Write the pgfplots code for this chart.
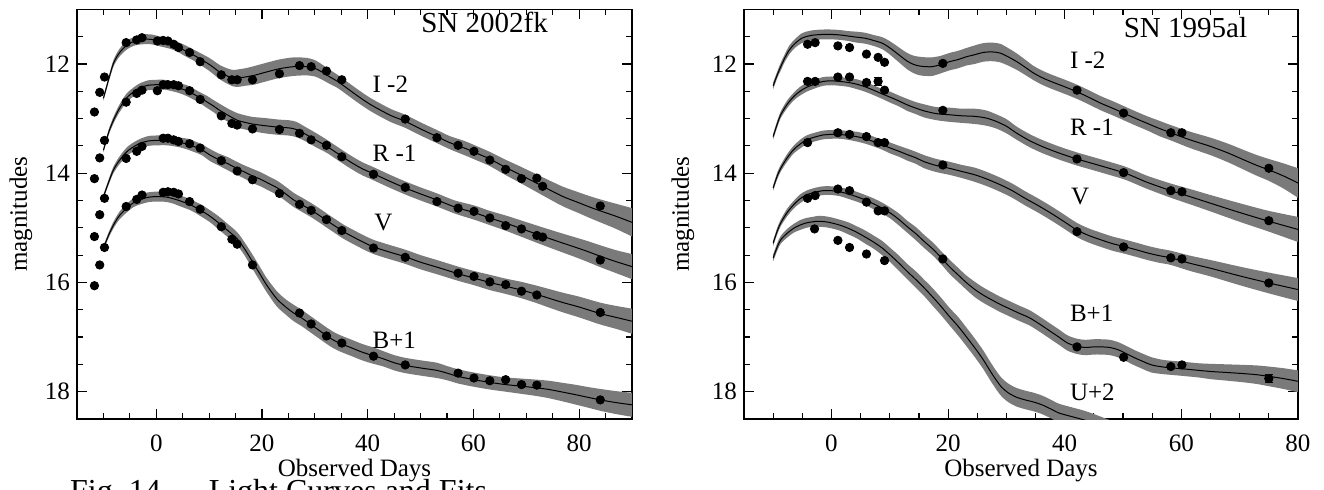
\documentclass[border=0pt]{standalone}
\usepackage{fontspec}
\setmainfont{Liberation Serif}
\usepackage{pgfplots}
\pgfplotsset{compat=1.18}
\usepackage{pgfplotstable}
\usepgfplotslibrary{fillbetween}
\definecolor{band}{RGB}{122,122,122}

% ---------------- SN 2002fk fits ----------------
\pgfplotstableread{
d m e
-10.0 12.63 0.04
-9.0 12.28 0.05
-8.1 11.99 0.06
-7.0 11.80 0.07
-5.5 11.65 0.08
-4.0 11.58 0.08
-2.5 11.55 0.09
-1.0 11.55 0.09
0.8 11.59 0.09
2.5 11.63 0.09
3.9 11.68 0.09
5.5 11.76 0.10
7.1 11.84 0.10
8.7 11.93 0.11
10.2 12.02 0.12
12.0 12.15 0.13
13.4 12.22 0.14
14.5 12.26 0.15
15.5 12.26 0.16
16.8 12.24 0.16
18.5 12.21 0.17
20.0 12.17 0.17
23.2 12.09 0.17
26.0 12.05 0.17
28.5 12.05 0.16
30.0 12.08 0.15
31.2 12.14 0.14
32.7 12.23 0.13
34.3 12.32 0.12
36.3 12.46 0.12
38.3 12.60 0.12
40.3 12.73 0.12
42.3 12.84 0.12
44.5 12.95 0.12
47.1 13.05 0.12
50.0 13.19 0.12
53.1 13.33 0.12
55.5 13.44 0.12
58.3 13.54 0.13
60.5 13.63 0.13
63.1 13.74 0.13
66.0 13.89 0.14
68.7 14.02 0.15
71.5 14.16 0.16
74.3 14.30 0.17
77.0 14.43 0.18
79.9 14.54 0.19
82.0 14.62 0.20
84.0 14.69 0.21
87.0 14.79 0.23
90.0 14.90 0.26
}\aI
\pgfplotstableread{
d m e
-10.0 13.58 0.04
-9.0 13.25 0.05
-8.1 13.03 0.06
-7.0 12.82 0.07
-5.6 12.62 0.08
-4.0 12.49 0.08
-3.0 12.43 0.08
-1.5 12.39 0.09
0.0 12.38 0.09
1.5 12.38 0.09
2.6 12.40 0.09
4.2 12.44 0.09
5.8 12.49 0.10
7.0 12.55 0.10
8.3 12.62 0.10
9.5 12.69 0.11
10.8 12.77 0.11
12.0 12.85 0.12
13.4 12.93 0.12
15.3 13.03 0.13
16.8 13.07 0.13
18.2 13.10 0.13
20.5 13.13 0.14
23.3 13.16 0.14
25.0 13.17 0.14
26.5 13.20 0.14
28.5 13.30 0.13
30.3 13.40 0.13
32.3 13.51 0.12
34.0 13.62 0.12
35.4 13.71 0.12
37.0 13.81 0.12
39.0 13.92 0.12
41.1 14.01 0.12
44.0 14.14 0.12
47.1 14.27 0.12
50.0 14.38 0.12
53.1 14.49 0.12
56.5 14.62 0.12
60.1 14.72 0.13
63.1 14.82 0.13
66.3 14.92 0.14
69.5 15.03 0.15
72.7 15.14 0.16
76.0 15.25 0.17
79.1 15.35 0.18
81.5 15.43 0.19
84.0 15.52 0.20
87.0 15.62 0.21
90.0 15.71 0.23
}\aR
\pgfplotstableread{
d m e
-10.0 14.43 0.04
-9.0 14.16 0.05
-8.1 13.94 0.06
-7.0 13.77 0.07
-5.5 13.60 0.08
-4.0 13.50 0.08
-3.0 13.45 0.08
-1.5 13.41 0.09
0.0 13.40 0.09
2.1 13.40 0.09
3.5 13.42 0.09
4.6 13.44 0.09
6.0 13.47 0.10
7.1 13.51 0.10
8.6 13.57 0.10
10.2 13.67 0.11
11.8 13.75 0.11
13.4 13.82 0.12
15.0 13.90 0.12
16.5 13.97 0.12
18.2 14.05 0.13
19.7 14.11 0.13
21.3 14.19 0.13
22.9 14.27 0.13
24.5 14.38 0.13
26.0 14.49 0.13
27.6 14.58 0.13
29.2 14.67 0.13
30.8 14.77 0.13
32.3 14.87 0.13
34.0 14.98 0.13
35.4 15.07 0.13
37.5 15.18 0.13
39.3 15.27 0.13
41.1 15.35 0.13
44.0 15.44 0.13
47.1 15.53 0.13
50.0 15.63 0.13
53.1 15.72 0.13
57.1 15.84 0.13
60.1 15.92 0.13
63.1 16.00 0.14
66.1 16.07 0.14
69.1 16.14 0.15
72.0 16.22 0.16
74.3 16.29 0.17
77.0 16.37 0.18
80.0 16.45 0.19
84.0 16.57 0.20
87.0 16.64 0.21
90.0 16.71 0.23
}\aV
\pgfplotstableread{
d m e
-10.0 15.37 0.04
-9.0 15.13 0.05
-8.1 14.95 0.06
-7.0 14.78 0.07
-5.6 14.64 0.08
-4.3 14.54 0.08
-3.0 14.48 0.09
-1.5 14.44 0.09
-0.5 14.43 0.09
1.0 14.43 0.09
2.1 14.44 0.09
3.3 14.47 0.09
4.6 14.51 0.10
6.0 14.56 0.10
7.1 14.61 0.10
8.6 14.69 0.11
10.2 14.79 0.11
11.8 14.91 0.12
13.4 15.04 0.12
15.3 15.20 0.12
16.8 15.40 0.12
18.2 15.62 0.13
19.7 15.86 0.13
20.9 16.05 0.13
22.8 16.30 0.14
24.5 16.45 0.14
26.0 16.56 0.15
27.5 16.65 0.15
29.1 16.76 0.15
30.7 16.87 0.15
32.3 16.98 0.15
33.8 17.07 0.15
35.4 17.14 0.15
37.0 17.20 0.15
38.5 17.26 0.15
40.0 17.31 0.15
41.1 17.34 0.15
43.0 17.40 0.14
45.0 17.47 0.14
47.1 17.52 0.14
50.3 17.57 0.14
53.1 17.61 0.14
55.0 17.66 0.13
57.1 17.72 0.13
60.1 17.78 0.13
63.1 17.83 0.13
66.1 17.87 0.13
69.1 17.90 0.14
72.0 17.93 0.15
74.3 17.96 0.16
77.0 18.01 0.17
79.1 18.05 0.18
82.0 18.11 0.19
84.0 18.15 0.20
87.0 18.20 0.21
90.0 18.24 0.22
}\aB

% ---------------- SN 1995al fits ----------------
\pgfplotstableread{
d m e
-10.0 12.40 0.06
-9.3 12.20 0.06
-8.7 12.05 0.07
-8.0 11.89 0.07
-7.2 11.74 0.08
-6.2 11.62 0.08
-5.1 11.53 0.09
-4.0 11.49 0.09
-2.9 11.47 0.09
-1.5 11.46 0.09
0.0 11.46 0.09
1.5 11.47 0.09
2.9 11.49 0.09
4.3 11.51 0.10
5.8 11.53 0.10
7.2 11.57 0.10
8.7 11.62 0.11
9.8 11.69 0.12
10.8 11.77 0.13
12.0 11.87 0.14
13.0 11.95 0.15
14.1 12.01 0.16
15.2 12.04 0.17
16.3 12.05 0.17
17.3 12.05 0.17
18.8 12.01 0.16
20.2 11.96 0.16
21.7 11.92 0.16
23.1 11.87 0.16
24.6 11.83 0.17
26.0 11.79 0.17
27.5 11.78 0.17
28.9 11.80 0.17
30.3 11.87 0.16
31.8 11.96 0.15
33.2 12.06 0.14
34.7 12.17 0.13
36.1 12.25 0.13
37.6 12.32 0.13
39.8 12.41 0.13
42.1 12.51 0.13
44.1 12.61 0.13
46.2 12.72 0.13
48.2 12.81 0.13
50.1 12.90 0.13
52.2 13.00 0.13
54.2 13.09 0.13
56.2 13.18 0.14
58.2 13.26 0.14
61.5 13.39 0.15
65.0 13.51 0.16
68.0 13.63 0.17
70.8 13.76 0.18
73.0 13.86 0.19
75.0 13.94 0.20
77.5 14.05 0.23
80.0 14.18 0.27
}\bI
\pgfplotstableread{
d m e
-10.0 13.33 0.05
-9.3 13.10 0.06
-8.7 12.93 0.06
-7.6 12.74 0.07
-6.5 12.60 0.07
-5.4 12.50 0.08
-4.3 12.43 0.08
-2.9 12.37 0.08
-1.4 12.32 0.08
0.0 12.31 0.08
1.4 12.32 0.08
2.9 12.34 0.08
4.3 12.37 0.09
5.8 12.42 0.09
7.2 12.48 0.09
8.7 12.55 0.09
10.1 12.61 0.10
11.6 12.68 0.10
13.0 12.75 0.11
14.5 12.81 0.11
15.9 12.86 0.12
18.0 12.91 0.12
20.2 12.93 0.13
22.4 12.95 0.13
24.6 12.96 0.14
26.5 12.99 0.14
28.2 13.05 0.13
30.0 13.14 0.13
31.8 13.27 0.12
33.9 13.40 0.12
36.1 13.51 0.12
39.0 13.63 0.12
42.1 13.74 0.12
46.0 13.86 0.12
50.1 13.99 0.12
52.2 14.08 0.12
54.2 14.17 0.12
58.2 14.32 0.13
61.5 14.43 0.14
65.0 14.55 0.15
70.0 14.72 0.17
75.0 14.88 0.19
80.0 15.03 0.23
}\bR
\pgfplotstableread{
d m e
-10.0 14.27 0.05
-9.3 14.05 0.06
-8.7 13.91 0.06
-7.6 13.72 0.07
-6.5 13.57 0.07
-5.4 13.47 0.08
-4.3 13.39 0.08
-2.9 13.34 0.08
-1.4 13.30 0.08
0.0 13.29 0.08
1.4 13.29 0.08
2.9 13.31 0.08
4.3 13.33 0.09
5.8 13.37 0.09
7.2 13.42 0.09
8.7 13.48 0.09
10.1 13.54 0.10
11.6 13.60 0.10
13.0 13.66 0.11
14.5 13.72 0.11
15.9 13.79 0.12
18.0 13.86 0.12
20.2 13.91 0.12
22.4 13.97 0.12
24.6 14.03 0.13
26.7 14.11 0.13
28.9 14.21 0.13
31.0 14.32 0.13
33.2 14.46 0.13
35.4 14.59 0.13
37.6 14.73 0.13
39.8 14.88 0.13
42.1 15.04 0.13
44.1 15.14 0.13
46.2 15.22 0.13
48.2 15.29 0.13
50.1 15.34 0.13
52.2 15.40 0.13
54.2 15.46 0.13
56.2 15.51 0.13
58.2 15.55 0.13
61.5 15.65 0.14
65.0 15.74 0.15
70.0 15.88 0.17
75.0 16.01 0.19
80.0 16.13 0.21
}\bV
\pgfplotstableread{
d m e
-10.0 15.28 0.05
-9.3 15.06 0.06
-8.7 14.91 0.06
-7.6 14.72 0.07
-6.5 14.58 0.07
-5.4 14.47 0.08
-4.3 14.40 0.08
-2.9 14.35 0.08
-1.4 14.32 0.08
0.0 14.32 0.08
1.4 14.34 0.08
2.9 14.38 0.09
4.3 14.43 0.09
5.8 14.49 0.09
7.2 14.56 0.10
8.7 14.64 0.10
10.1 14.73 0.10
11.6 14.85 0.11
13.0 14.98 0.11
14.5 15.11 0.12
15.9 15.25 0.12
17.5 15.40 0.12
19.0 15.57 0.12
20.3 15.72 0.13
21.7 15.86 0.13
23.1 16.00 0.13
24.6 16.13 0.14
26.0 16.23 0.14
27.5 16.32 0.14
28.9 16.40 0.14
30.3 16.47 0.14
32.1 16.56 0.14
34.0 16.65 0.14
35.8 16.77 0.14
37.6 16.90 0.14
39.0 17.00 0.14
40.5 17.11 0.14
42.1 17.17 0.14
43.5 17.19 0.14
45.0 17.18 0.14
46.2 17.18 0.14
47.7 17.19 0.14
49.1 17.23 0.14
50.5 17.30 0.14
52.0 17.38 0.14
53.5 17.45 0.14
54.9 17.51 0.14
57.0 17.55 0.13
60.1 17.58 0.13
63.0 17.61 0.13
65.0 17.63 0.14
68.0 17.65 0.15
70.8 17.67 0.16
73.0 17.69 0.17
75.0 17.72 0.18
77.5 17.76 0.19
80.0 17.81 0.20
}\bB
\pgfplotstableread{
d m e
-10.0 15.55 0.06
-9.3 15.35 0.07
-8.7 15.22 0.07
-7.6 15.10 0.08
-6.5 15.01 0.08
-5.4 14.95 0.09
-4.3 14.91 0.09
-3.2 14.89 0.09
-2.2 14.88 0.10
-1.0 14.89 0.10
0.0 14.91 0.10
1.4 14.95 0.10
2.9 15.01 0.11
4.3 15.08 0.11
5.8 15.17 0.12
7.2 15.26 0.12
8.7 15.37 0.13
10.1 15.50 0.13
11.6 15.65 0.14
13.0 15.80 0.14
14.5 15.95 0.15
15.9 16.10 0.15
17.3 16.26 0.16
18.8 16.44 0.16
20.2 16.62 0.16
21.7 16.80 0.17
23.1 16.99 0.17
24.6 17.20 0.17
26.0 17.41 0.17
27.1 17.60 0.17
28.2 17.78 0.17
29.2 17.92 0.17
30.3 18.02 0.17
31.7 18.10 0.17
33.2 18.15 0.17
34.7 18.19 0.17
36.1 18.24 0.17
37.5 18.31 0.17
39.0 18.39 0.17
41.0 18.45 0.17
43.7 18.53 0.17
47.0 18.66 0.17
50.0 18.78 0.17
53.0 18.90 0.17
}\bU

\pgfplotsset{
  lc/.style={
    scale only axis, width=277.5pt, height=204.85pt,
    xmin=-15, ymin=11, ymax=18.5, y dir=reverse,
    xtick={0,20,40,60,80}, minor xtick={-15,-10,...,90},
    ytick={12,14,16,18}, minor ytick={11,11.5,...,18.5},
    tick align=inside,
    major tick length=5pt, minor tick length=2.8pt,
    axis line style={line width=0.7pt},
    tick style={black, line width=0.6pt},
    tick label style={font=\fontsize{12.5}{14}\selectfont},
    /pgf/number format/assume math mode=true,
    xticklabel style={yshift=-4.5pt},
    label style={font=\fontsize{12.5}{15}\selectfont},
    xlabel={Observed Days}, ylabel={magnitudes},
    xlabel style={at={(axis description cs:0.5,0)}, anchor=base, yshift=-28.5pt},
  },
  bnd/.style={draw=none, smooth},
  ln/.style={black, line width=0.5pt, smooth},
  dt/.style={only marks, mark=*, mark size=2.1pt, black},
}
\newcommand{\bandcurve}[2]{%
  \addplot[bnd, name path=#2u] table[x=d, y expr=\thisrow{m}-\thisrow{e}] {#1};
  \addplot[bnd, name path=#2l] table[x=d, y expr=\thisrow{m}+\thisrow{e}] {#1};
  \addplot[fill=band, draw=none] fill between[of=#2u and #2l];
}

\begin{document}
\begin{tikzpicture}
% ================= left panel =================
\begin{axis}[lc, at={(38.5pt,35pt)}, anchor=south west, xmax=90,
  ylabel style={at={(axis description cs:0,0.5)}, anchor=center, rotate=0, xshift=0pt, yshift=28pt}]
\bandcurve{\aI}{aI}
\bandcurve{\aR}{aR}
\bandcurve{\aV}{aV}
\bandcurve{\aB}{aB}
\addplot[ln] table[x=d,y=m] {\aI};
\addplot[ln] table[x=d,y=m] {\aR};
\addplot[ln] table[x=d,y=m] {\aV};
\addplot[ln] table[x=d,y=m] {\aB};
% I-2 data
\addplot[dt] table {
-11.7 12.88
-10.7 12.52
-9.8 12.24
-5.7 11.61
-3.7 11.56
-2.7 11.52
0.2 11.58
1.3 11.57
2.2 11.58
3.3 11.64
4.2 11.70
6.3 11.79
8.3 11.96
12.3 12.20
14.3 12.29
15.3 12.29
18.2 12.29
23.3 12.18
27.1 12.03
29.3 12.05
32.2 12.13
35.1 12.29
47.1 13.01
53.1 13.35
57.1 13.49
60.1 13.60
63.1 13.76
66.1 13.93
69.1 14.10
72.0 14.09
73.1 14.24
84.0 14.60
};
% R-1 data
\addplot[dt] table {
-11.7 14.10
-10.7 13.72
-9.8 13.40
-5.7 12.70
-3.7 12.54
-2.7 12.48
0.2 12.49
1.3 12.38
2.2 12.38
3.3 12.38
4.2 12.40
6.3 12.49
8.3 12.65
12.3 12.95
14.3 13.09
15.3 13.12
18.2 13.19
23.3 13.20
27.1 13.27
29.3 13.39
32.2 13.49
35.1 13.70
41.1 14.02
47.1 14.26
53.1 14.52
57.1 14.64
60.1 14.70
63.1 14.82
66.1 14.96
69.1 15.02
72.0 15.14
73.1 15.17
84.0 15.59
};
% V data
\addplot[dt] table {
-11.7 15.16
-10.7 14.76
-9.8 14.46
-5.7 13.73
-3.7 13.60
-2.7 13.51
1.3 13.36
2.2 13.36
3.3 13.39
4.2 13.42
6.3 13.46
8.3 13.54
12.3 13.77
15.3 13.96
18.2 14.12
23.3 14.37
27.1 14.57
29.3 14.68
32.2 14.85
35.1 15.05
41.1 15.37
47.1 15.54
57.1 15.83
60.1 15.89
63.1 15.99
66.1 16.04
69.1 16.16
72.0 16.23
84.0 16.55
};
% B+1 data
\addplot[dt] table {
-11.7 16.06
-10.7 15.68
-9.8 15.36
-5.7 14.61
-3.7 14.48
-2.7 14.40
1.3 14.35
2.2 14.34
3.3 14.35
4.2 14.38
6.3 14.52
8.3 14.66
12.3 14.98
14.3 15.21
15.3 15.30
18.2 15.68
27.1 16.56
29.3 16.76
32.2 16.98
35.1 17.11
41.1 17.35
47.1 17.51
57.1 17.66
60.1 17.75
63.1 17.80
66.1 17.78
69.1 17.87
72.0 17.88
84.0 18.15
};
\node[font=\fontsize{14.5}{17}\selectfont] at (axis cs:62.1,11.24) {SN 2002fk};
\node[anchor=west, font=\fontsize{12.5}{15}\selectfont] at (axis cs:39.6,12.38) {I -2};
\node[anchor=west, font=\fontsize{12.5}{15}\selectfont] at (axis cs:39.6,13.63) {R -1};
\node[anchor=west, font=\fontsize{12.5}{15}\selectfont] at (axis cs:39.9,14.91) {V};
\node[anchor=west, font=\fontsize{12.5}{15}\selectfont] at (axis cs:39.6,17.05) {B+1};
\end{axis}

% ================= right panel =================
\begin{axis}[lc, at={(372pt,35pt)}, anchor=south west, xmax=80, width=277pt,
  ylabel style={at={(axis description cs:0,0.5)}, anchor=center, rotate=0, xshift=0pt, yshift=30.5pt}]
\bandcurve{\bI}{bI}
\bandcurve{\bR}{bR}
\bandcurve{\bV}{bV}
\bandcurve{\bB}{bB}
\bandcurve{\bU}{bU}
\addplot[ln] table[x=d,y=m] {\bI};
\addplot[ln] table[x=d,y=m] {\bR};
\addplot[ln] table[x=d,y=m] {\bV};
\addplot[ln] table[x=d,y=m] {\bB};
\addplot[ln] table[x=d,y=m] {\bU};
% I-2 data
\addplot[dt] table {
-4.1 11.64
-2.8 11.61
1.1 11.67
3.1 11.70
6.0 11.82
8.0 11.88
9.1 11.97
19.1 11.99
42.1 12.48
50.1 12.90
58.2 13.26
60.1 13.26
75.0 13.91
};
% R-1 data
\addplot[dt] table {
-4.1 12.32
-2.8 12.32
1.1 12.24
3.1 12.24
6.0 12.34
9.1 12.48
19.1 12.85
42.1 13.74
50.1 13.99
58.2 14.32
60.1 14.34
75.0 14.87
};
\addplot[dt, error bars/.cd, y dir=both, y explicit,
  error bar style={line width=0.5pt}] coordinates {(8.0,12.32) +- (0,0.08)};
% V data
\addplot[dt] table {
-4.1 13.44
1.1 13.26
3.1 13.29
6.0 13.33
8.0 13.44
9.1 13.44
19.1 13.85
42.1 15.07
50.1 15.35
58.2 15.55
60.1 15.57
75.0 16.01
};
% B+1 data
\addplot[dt] table {
-4.1 14.46
-2.8 14.41
1.1 14.29
3.1 14.32
6.0 14.53
8.0 14.69
9.1 14.69
19.1 15.57
42.1 17.18
50.1 17.37
58.2 17.54
60.1 17.51
};
\addplot[dt, error bars/.cd, y dir=both, y explicit,
  error bar style={line width=0.5pt}] coordinates {(75.0,17.76) +- (0,0.07)};
% U+2 data
\addplot[dt] table {
-2.9 15.02
1.1 15.23
3.1 15.36
6.0 15.48
9.1 15.60
};
\node[font=\fontsize{14.5}{17}\selectfont] at (axis cs:60.7,11.33) {SN 1995al};
\node[anchor=west, font=\fontsize{12.5}{15}\selectfont] at (axis cs:39.7,11.93) {I -2};
\node[anchor=west, font=\fontsize{12.5}{15}\selectfont] at (axis cs:39.7,13.15) {R -1};
\node[anchor=west, font=\fontsize{12.5}{15}\selectfont] at (axis cs:39.9,14.43) {V};
\node[anchor=west, font=\fontsize{12.5}{15}\selectfont] at (axis cs:39.7,16.56) {B+1};
\node[anchor=west, font=\fontsize{12.5}{15}\selectfont] at (axis cs:39.7,18.02) {U+2};
\end{axis}

\node[anchor=base west, font=\fontsize{16}{19}\selectfont] at (31.5pt,-6.1pt) {Fig.~14.--- Light Curves and Fits};
\pgfresetboundingbox
\path[use as bounding box] (0,0) rectangle (662pt,244.5pt);
\end{tikzpicture}
\end{document}
